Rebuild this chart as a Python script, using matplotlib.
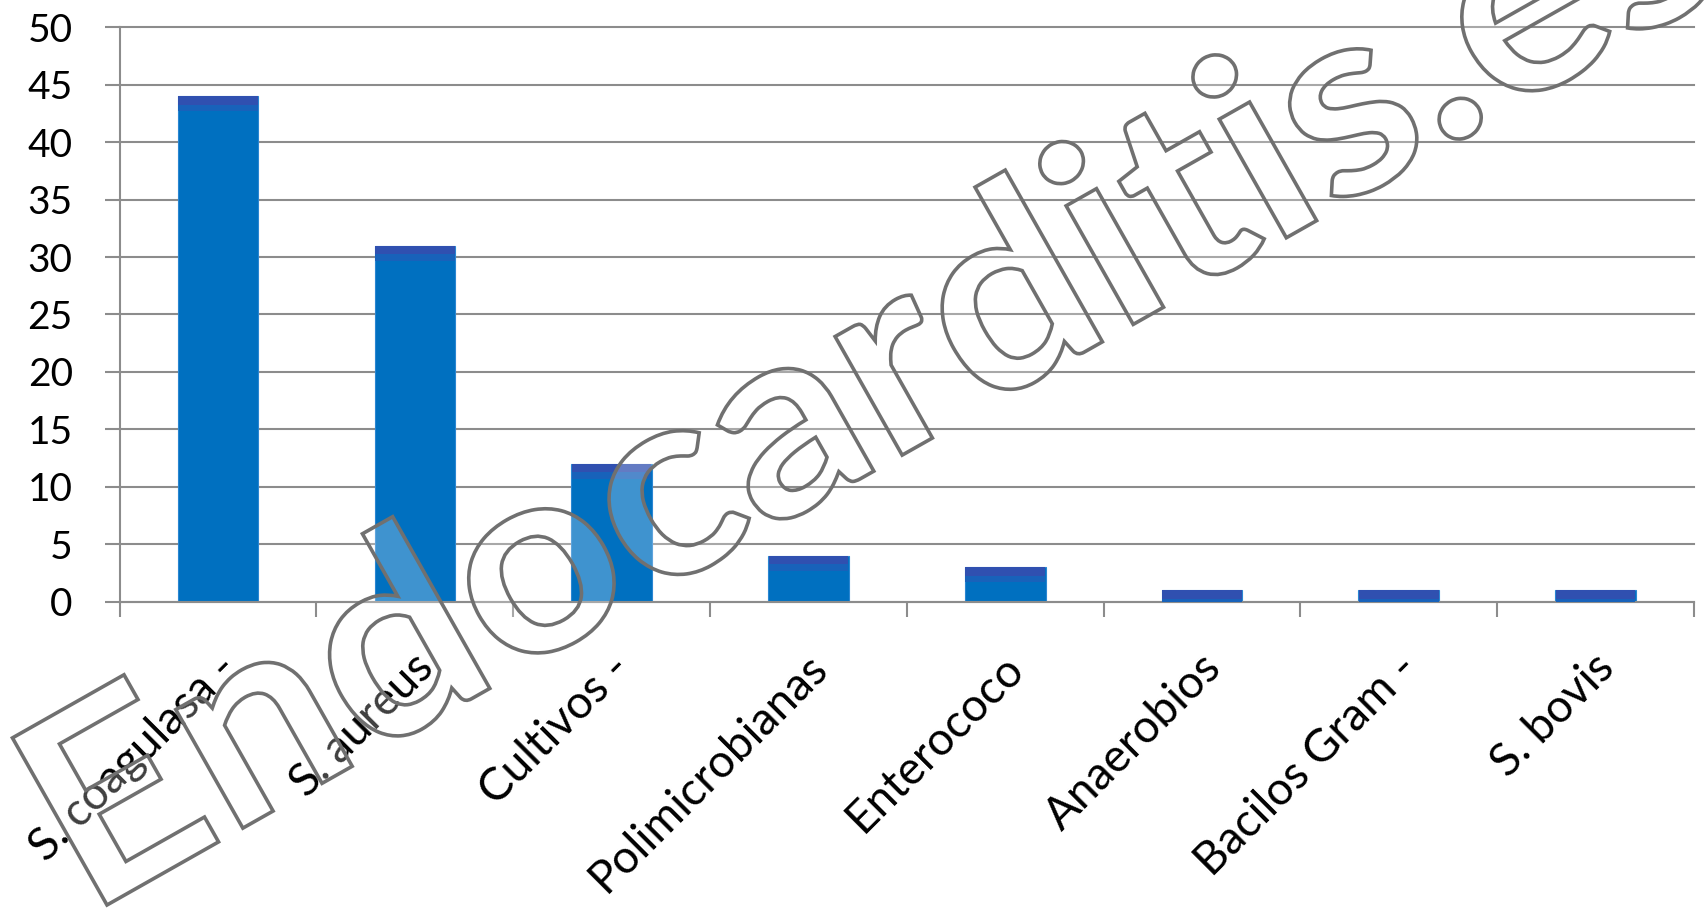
import matplotlib
matplotlib.use("Agg")
import matplotlib.pyplot as plt
import numpy as np
from matplotlib.textpath import TextPath
from matplotlib.patches import PathPatch
from matplotlib.font_manager import FontProperties
from matplotlib.transforms import Affine2D, IdentityTransform, ScaledTranslation

# ---- data ----
categories = ["S. coagulasa -", "S. aureus", "Cultivos -", "Polimicrobianas",
              "Enterococo", "Anaerobios", "Bacilos Gram -", "S. bovis"]
values = [44, 31, 12, 4, 3, 1, 1, 1]
y_ticks = [0, 5, 10, 15, 20, 25, 30, 35, 40, 45, 50]
watermark = "Endocarditis.es"

FONT = "Lato"
plt.rcParams['font.family'] = [FONT, 'DejaVu Sans']

W, H = 1706, 909
fig = plt.figure(figsize=(W / 100, H / 100), dpi=100)
ax = fig.add_axes([119.7 / W, (H - 601.5) / H, (1694 - 119.7) / W, (601.5 - 27.5) / H])

x = np.arange(len(categories))
bw = 0.41
main_col = "#0070C0"
ax.bar(x, values, width=bw, color=main_col, edgecolor="#2A86D2", linewidth=0.8, zorder=2)
# darker top band (gradient-like)
vals = np.array(values, dtype=float)
b1 = np.minimum(vals, 0.75)
ax.bar(x, b1, bottom=vals - b1, width=bw - 0.006, color="#3050B0", linewidth=0, zorder=3)
b2 = np.clip(vals - 0.75, 0, 0.55)
ax.bar(x, b2, bottom=vals - 0.75 - b2, width=bw - 0.006, color="#1862BA", linewidth=0, zorder=3)

ax.set_xlim(-0.5, len(categories) - 0.5)
ax.set_ylim(0, 50)
ax.set_yticks(y_ticks)
ax.set_yticklabels([str(v) for v in y_ticks])

grid_col = "#8C8C8C"
ax.yaxis.grid(True, color=grid_col, linewidth=1.5)
ax.set_axisbelow(True)
for gl in ax.get_ygridlines():
    gl.set_clip_on(False)
for s in ["top", "right"]:
    ax.spines[s].set_visible(False)
for s in ["left", "bottom"]:
    ax.spines[s].set_color(grid_col)
    ax.spines[s].set_linewidth(1.5)

ax.tick_params(axis="y", length=10.8, width=1.5, color=grid_col, labelsize=28, pad=23, labelcolor="black")
ax.set_xticks(x)
ax.set_xticklabels(categories)
ax.set_xticks(np.arange(len(categories) + 1) - 0.5, minor=True)
ax.tick_params(axis="x", which="major", length=0, labelsize=33, pad=43, labelcolor="black")
ax.tick_params(axis="x", which="minor", length=10.8, width=1.5, color=grid_col)
offset = ScaledTranslation(12 / 100, 0, fig.dpi_scale_trans)
for lab in ax.get_xticklabels():
    lab.set_rotation(45)
    lab.set_ha("right")
    lab.set_va("center")
    lab.set_rotation_mode("anchor")
    lab.set_transform(lab.get_transform() + offset)

# ---- watermark (outlined text) ----
fp = FontProperties(family=FONT, weight="bold")
tp = TextPath((0, 0), watermark, size=100, prop=fp)
tpE = TextPath((0, 0), "E", size=100, prop=fp)
tpMain = TextPath((0, 0), watermark[:13], size=100, prop=fp)
tpDot = TextPath((0, 0), ".", size=100, prop=fp)
eext = tpE.get_extents()
e_left = eext.x0
cap = eext.y1
dot_center = tpMain.get_extents().x1 - tpDot.get_extents().width / 2
sx = 1565 / (dot_center - e_left)
sy = 192 / cap
tr = (Affine2D().translate(-e_left, 0).scale(sx, sy)
      .rotate_deg(29.5).translate(107, H - 905))
wm = PathPatch(tr.transform_path(tp), transform=IdentityTransform(),
               facecolor=(1, 1, 1, 0.25), edgecolor="#707070", linewidth=2.6, zorder=10)
fig.add_artist(wm)

fig.savefig("out.png", dpi=100)
